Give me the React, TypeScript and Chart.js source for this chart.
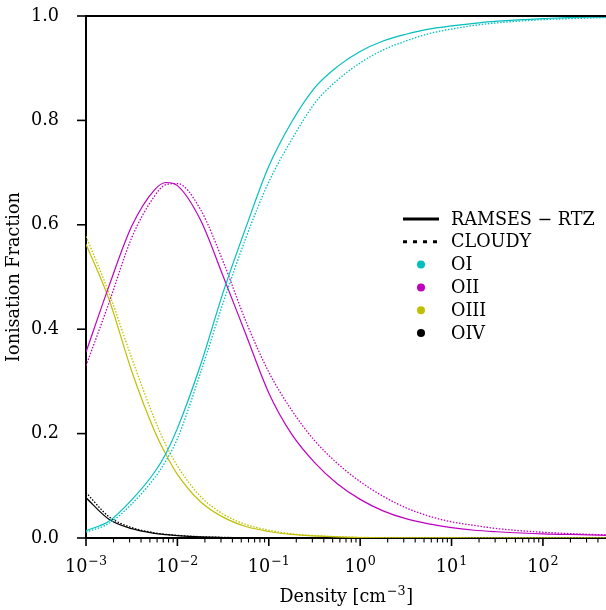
import React, { useEffect, useRef } from 'react';
import { Chart, registerables } from 'chart.js';

Chart.register(...registerables);

const FONT = '"DejaVu Serif", "Liberation Serif", serif';
const FS = 17.6;

// Density grid (cm^-3)
const density = [0.001, 0.00178, 0.00316, 0.00562, 0.0075, 0.01, 0.0178, 0.0316, 0.0562, 0.1, 0.178, 0.316, 0.562, 1, 1.78, 3.16, 5.62, 10, 17.8, 31.6, 100, 316, 490];

// RAMSES-RTZ (solid)
const oiRamses = [0.014, 0.032, 0.073, 0.126, 0.162, 0.21, 0.33, 0.47, 0.595, 0.712, 0.797, 0.862, 0.903, 0.932, 0.952, 0.965, 0.975, 0.981, 0.986, 0.99, 0.995, 0.998, 0.998];
const oiiRamses = [0.356, 0.482, 0.597, 0.667, 0.681, 0.675, 0.61, 0.502, 0.39, 0.278, 0.199, 0.145, 0.104, 0.074, 0.052, 0.037, 0.027, 0.02, 0.0148, 0.012, 0.008, 0.006, 0.005];
const oiiiRamses = [0.563, 0.458, 0.32, 0.205, 0.16, 0.122, 0.07, 0.04, 0.022, 0.0125, 0.007, 0.004, 0.002, 0.001, 0.0005, 0.0003, 0.0002, 0.0001, 0, 0, 0, 0, 0];
const oivRamses = [0.077, 0.036, 0.018, 0.009, 0.0065, 0.0045, 0.002, 0.001, 0.0005, 0.0003, 0.0001, 0, 0, 0, 0, 0, 0, 0, 0, 0, 0, 0, 0];

// CLOUDY (dotted)
const oiCloudy = [0.011, 0.028, 0.065, 0.115, 0.148, 0.19, 0.315, 0.45, 0.575, 0.682, 0.763, 0.832, 0.877, 0.91, 0.935, 0.952, 0.966, 0.975, 0.982, 0.987, 0.993, 0.996, 0.997];
const oiiCloudy = [0.33, 0.45, 0.575, 0.655, 0.677, 0.679, 0.63, 0.53, 0.415, 0.318, 0.245, 0.187, 0.143, 0.108, 0.08, 0.058, 0.042, 0.031, 0.024, 0.018, 0.011, 0.007, 0.006];
const oiiiCloudy = [0.578, 0.47, 0.345, 0.228, 0.178, 0.138, 0.08, 0.046, 0.026, 0.015, 0.008, 0.0045, 0.0025, 0.0012, 0.0006, 0.0003, 0.0002, 0.0001, 0, 0, 0, 0, 0];
const oivCloudy = [0.087, 0.041, 0.02, 0.01, 0.007, 0.005, 0.0025, 0.0012, 0.0006, 0.0003, 0.0001, 0, 0, 0, 0, 0, 0, 0, 0, 0, 0, 0, 0];

const ionNames = ['OI', 'OII', 'OIII', 'OIV'];
const ionColors = ['#00bfbf', '#bf00bf', '#bfbf00', '#000000'];
const codeNames = ['RAMSES \u2212 RTZ', 'CLOUDY'];

const yTicks = [0, 0.2, 0.4, 0.6, 0.8, 1.0];
const xMin = 0.001;
const xMax = 490;
const xTitle = ['Density [cm', '\u22123', ']'];
const yTitle = 'Ionisation Fraction';

const pts = (arr: number[]) => arr.map((v, i) => ({ x: density[i], y: v }));

const decoPlugin = {
  id: 'deco',
  afterDraw(chart: any) {
    const { ctx, chartArea } = chart;
    const xs = chart.scales.x;
    const ys = chart.scales.y;
    ctx.save();
    ctx.strokeStyle = '#000';
    ctx.fillStyle = '#000';
    // top spine
    ctx.lineWidth = 2;
    ctx.beginPath();
    ctx.moveTo(chartArea.left - 1, chartArea.top);
    ctx.lineTo(chartArea.right, chartArea.top);
    ctx.stroke();
    // x ticks (major + minor)
    for (let e = -3; e <= 2; e++) {
      for (let m = 1; m <= 9; m++) {
        const v = m * Math.pow(10, e);
        if (v < xMin || v > xMax) continue;
        const px = xs.getPixelForValue(v);
        const major = m === 1;
        ctx.lineWidth = major ? 1.6 : 1.1;
        ctx.beginPath();
        ctx.moveTo(px, chartArea.bottom);
        ctx.lineTo(px, chartArea.bottom + (major ? 8 : 4.5));
        ctx.stroke();
      }
    }
    // x tick labels 10^n with superscripts
    const supSize = FS * 0.72;
    xs.ticks.forEach((t: any) => {
      const l = Math.log10(t.value);
      const r = Math.round(l);
      if (Math.abs(l - r) > 1e-6) return;
      const base = '10';
      const ex = (r < 0 ? '\u2212' : '') + Math.abs(r);
      ctx.font = FS + 'px ' + FONT;
      const wb = ctx.measureText(base).width;
      ctx.font = supSize + 'px ' + FONT;
      const we = ctx.measureText(ex).width;
      const px = xs.getPixelForValue(t.value);
      const x0 = px - (wb + we + 1) / 2;
      ctx.textBaseline = 'alphabetic';
      ctx.textAlign = 'left';
      ctx.font = FS + 'px ' + FONT;
      ctx.fillText(base, x0, 572);
      ctx.font = supSize + 'px ' + FONT;
      ctx.fillText(ex, x0 + wb + 1, 565);
    });
    // x title with superscript
    {
      ctx.font = FS + 'px ' + FONT;
      const w1 = ctx.measureText(xTitle[0]).width;
      const w3 = ctx.measureText(xTitle[2]).width;
      ctx.font = supSize + 'px ' + FONT;
      const w2 = ctx.measureText(xTitle[1]).width;
      const cx = (chartArea.left + chartArea.right) / 2;
      const x0 = cx - (w1 + w2 + w3 + 1) / 2;
      ctx.font = FS + 'px ' + FONT;
      ctx.fillText(xTitle[0], x0, 602);
      ctx.font = supSize + 'px ' + FONT;
      ctx.fillText(xTitle[1], x0 + w1 + 1, 595);
      ctx.font = FS + 'px ' + FONT;
      ctx.fillText(xTitle[2], x0 + w1 + w2 + 1.5, 602);
    }
    // y ticks
    ctx.lineWidth = 1.6;
    yTicks.forEach((v) => {
      const py = ys.getPixelForValue(v);
      ctx.beginPath();
      ctx.moveTo(chartArea.left, py);
      ctx.lineTo(chartArea.left - 9, py);
      ctx.stroke();
    });
    // legend
    const lx = 403;
    const tx = 451;
    let ly = 219;
    const step = 22.8;
    ctx.font = FS + 'px ' + FONT;
    ctx.textBaseline = 'middle';
    ctx.textAlign = 'left';
    codeNames.forEach((name, i) => {
      ctx.lineWidth = 3;
      ctx.setLineDash(i === 0 ? [] : [4, 6]);
      ctx.beginPath();
      ctx.moveTo(lx, ly);
      ctx.lineTo(lx + 36, ly);
      ctx.stroke();
      ctx.setLineDash([]);
      ctx.fillText(name, tx, ly + 1);
      ly += step;
    });
    ionNames.forEach((name, i) => {
      ctx.fillStyle = ionColors[i];
      ctx.beginPath();
      ctx.arc(lx + 18, ly, 4, 0, Math.PI * 2);
      ctx.fill();
      ctx.fillStyle = '#000';
      ctx.fillText(name, tx, ly + 1);
      ly += step;
    });
    ctx.restore();
  },
};

export default function App() {
  const ref = useRef<HTMLCanvasElement>(null);
  useEffect(() => {
    const ramses = [oiRamses, oiiRamses, oiiiRamses, oivRamses];
    const cloudy = [oiCloudy, oiiCloudy, oiiiCloudy, oivCloudy];
    const datasets: any[] = [];
    ionNames.forEach((name, i) => {
      datasets.push({
        label: name + ' ' + codeNames[0],
        data: pts(ramses[i]),
        borderColor: ionColors[i],
        borderWidth: 1.2,
        pointRadius: 0,
        fill: false,
        cubicInterpolationMode: 'monotone',
      });
      datasets.push({
        label: name + ' ' + codeNames[1],
        data: pts(cloudy[i]),
        borderColor: ionColors[i],
        borderWidth: 1.3,
        borderDash: [1.5, 1.6],
        pointRadius: 0,
        fill: false,
        cubicInterpolationMode: 'monotone',
      });
    });
    const chart = new Chart(ref.current!, {
      type: 'line',
      data: { datasets },
      plugins: [decoPlugin],
      options: {
        animation: false,
        responsive: false,
        devicePixelRatio: 1,
        layout: { padding: { top: 16, right: 0, bottom: 0, left: 0 } },
        plugins: { legend: { display: false }, tooltip: { enabled: false } },
        scales: {
          x: {
            type: 'logarithmic',
            min: xMin,
            max: xMax,
            grid: { display: false },
            border: { display: true, color: '#000', width: 2 },
            ticks: { display: false, autoSkip: false },
            title: { display: false },
            afterFit: (s: any) => {
              s.height = 72;
              s.paddingLeft = 0;
              s.paddingRight = 0;
            },
          },
          y: {
            type: 'linear',
            min: 0,
            max: 1,
            grid: { display: false },
            border: { display: true, color: '#000', width: 2 },
            ticks: {
              stepSize: 0.2,
              padding: 19,
              color: '#000',
              font: { family: FONT, size: FS },
              callback: (value: any) => Number(value).toFixed(1),
            },
            title: {
              display: true,
              text: yTitle,
              color: '#000',
              font: { family: FONT, size: FS },
              padding: { top: 4, bottom: 0 },
            },
            afterFit: (s: any) => {
              s.width = 86;
              s.paddingTop = 0;
              s.paddingBottom = 0;
            },
          },
        },
      },
    } as any);
    return () => chart.destroy();
  }, []);
  return (
    <div style={{ position: 'absolute', left: 0, top: 0, width: 606, height: 610, background: '#fff' }}>
      <canvas ref={ref} width={606} height={610} style={{ display: 'block', width: 606, height: 610 }} />
    </div>
  );
}
